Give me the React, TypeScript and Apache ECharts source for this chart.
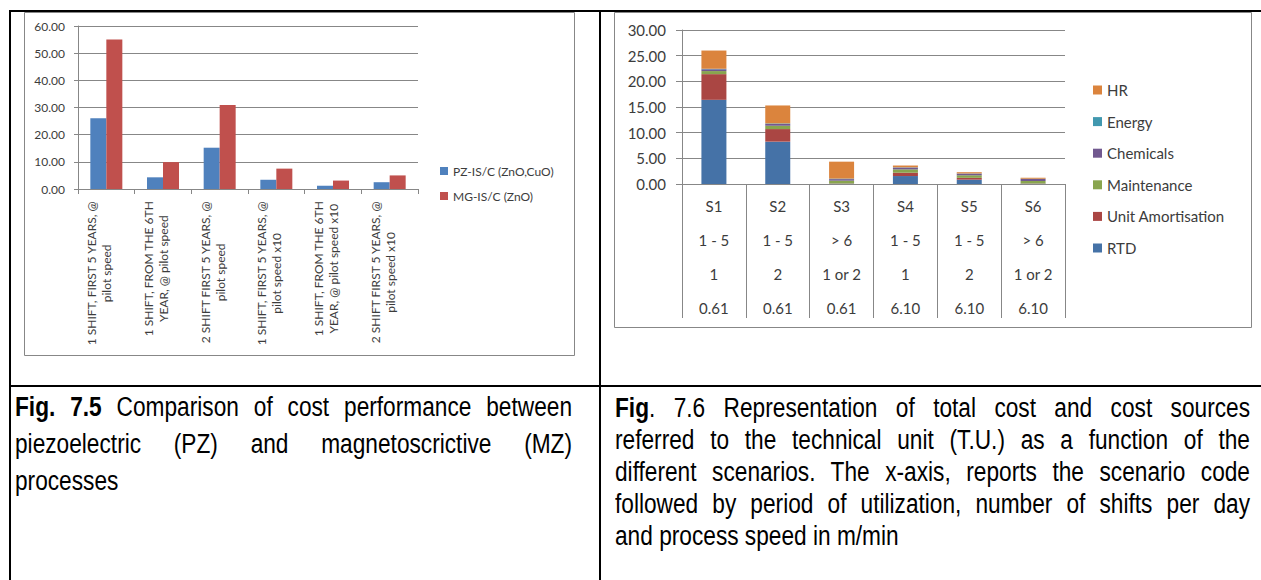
import React, { useEffect, useRef } from 'react';
import * as echarts from 'echarts';

// ---------- Fig 7.5 data ----------
const categories1 = [
  '1 SHIFT, FIRST 5 YEARS, @\npilot speed',
  '1 SHIFT, FROM THE 6TH\nYEAR, @ pilot speed',
  '2 SHIFT FIRST 5 YEARS, @\npilot speed',
  '1 SHIFT, FIRST 5 YEARS, @\npilot speed x10',
  '1 SHIFT, FROM THE 6TH\nYEAR, @ pilot speed x10',
  '2 SHIFT FIRST 5 YEARS, @\npilot speed x10',
];
const seriesNames1 = ['PZ-IS/C (ZnO,CuO)', 'MG-IS/C (ZnO)'];
const pzValues = [26.0, 4.3, 15.2, 3.4, 1.2, 2.5];
const mgValues = [55.0, 9.9, 30.9, 7.5, 3.1, 5.0];

// ---------- Fig 7.6 data ----------
const scenarioCodes = ['S1', 'S2', 'S3', 'S4', 'S5', 'S6'];
const periods = ['1 - 5', '1 - 5', '> 6', '1 - 5', '1 - 5', '> 6'];
const shifts = ['1', '2', '1 or 2', '1', '2', '1 or 2'];
const speeds = ['0.61', '0.61', '0.61', '6.10', '6.10', '6.10'];
const costNames = ['RTD', 'Unit Amortisation', 'Maintenance', 'Chemicals', 'Energy', 'HR'];
const rtd = [16.4, 8.25, 0.05, 1.55, 0.85, 0.05];
const unitAmortisation = [5.0, 2.45, 0.05, 0.65, 0.35, 0.05];
const maintenance = [0.6, 0.65, 0.55, 0.65, 0.5, 0.5];
const chemicals = [0.35, 0.35, 0.3, 0.35, 0.3, 0.35];
const energy = [0.1, 0.1, 0.1, 0.05, 0.05, 0.05];
const hr = [3.55, 3.5, 3.3, 0.35, 0.25, 0.2];
const legendOrder2 = ['HR', 'Energy', 'Chemicals', 'Maintenance', 'Unit Amortisation', 'RTD'];

const caption1Lines = [
  ['Fig. 7.5', ' Comparison of cost performance between'],
  ['', 'piezoelectric (PZ) and magnetoscrictive (MZ)'],
  ['', 'processes'],
];
const caption2Lines = [
  ['Fig', '. 7.6 Representation of total cost and cost sources'],
  ['', 'referred to the technical unit (T.U.) as a function of the'],
  ['', 'different scenarios. The x-axis, reports the scenario code'],
  ['', 'followed by period of utilization, number of shifts per day'],
  ['', 'and process speed in m/min'],
];

const FONT = 'Lato, "Open Sans", sans-serif';
const CAPFONT = '"Liberation Sans", Arial, sans-serif';
const NARROW = 0.84;
const GRID_GRAY = '#878787';
const TXT = '#3c3c3c';

const colors1 = ['#4F81BD', '#C0504D'];
const colors2 = ['#4572A7', '#AA4643', '#89A54E', '#71588F', '#4198AF', '#DB843D'];

function Caption({ lines, left, width, top, lineH }: any) {
  return (
    <div
      style={{
        position: 'absolute',
        left,
        top,
        width: width / NARROW,
        transform: `scaleX(${NARROW})`,
        transformOrigin: 'left top',
        fontFamily: CAPFONT,
        fontSize: 27,
        color: '#000',
      }}
    >
      {lines.map((l: string[], i: number) => {
        const last = i === lines.length - 1;
        return (
          <div
            key={i}
            style={{
              height: lineH,
              lineHeight: lineH + 'px',
              whiteSpace: last ? 'nowrap' : 'normal',
              textAlign: last ? 'left' : 'justify',
              textAlignLast: last ? 'left' : 'justify',
            } as any}
          >
            {l[0] ? <b>{l[0]}</b> : null}
            {l[1]}
          </div>
        );
      })}
    </div>
  );
}

export default function App() {
  const ref = useRef<HTMLDivElement>(null);
  useEffect(() => {
    if (!ref.current) return;
    const chart = echarts.init(ref.current, null, { renderer: 'svg' });
    const cats2 = scenarioCodes.map((s, i) => [s, periods[i], shifts[i], speeds[i]].join('\n'));
    const stackData = [rtd, unitAmortisation, maintenance, chemicals, energy, hr];
    chart.setOption({
      animation: false,
      backgroundColor: 'transparent',
      graphic: [
        { type: 'rect', silent: true, z: -1, shape: { x: 24.5, y: 12.5, width: 550, height: 343 }, style: { fill: '#fff', stroke: GRID_GRAY, lineWidth: 1 } },
        { type: 'rect', silent: true, z: -1, shape: { x: 614.5, y: 12.5, width: 637, height: 315 }, style: { fill: '#fff', stroke: GRID_GRAY, lineWidth: 1 } },
      ],
      legend: [
        {
          data: seriesNames1,
          orient: 'vertical',
          left: 435,
          top: 159,
          itemWidth: 8,
          itemHeight: 8,
          itemGap: 11,
          icon: 'rect',
          textStyle: { fontFamily: FONT, fontSize: 12, color: TXT, lineHeight: 14 },
        },
        {
          data: legendOrder2,
          orient: 'vertical',
          left: 1088,
          top: 77,
          itemWidth: 9,
          itemHeight: 9,
          itemGap: 15.6,
          icon: 'rect',
          textStyle: { fontFamily: FONT, fontSize: 15, color: TXT, lineHeight: 16 },
        },
      ],
      grid: [
        { left: 78, top: 26, width: 340, height: 163 },
        { left: 682, top: 30, width: 383, height: 154 },
      ],
      xAxis: [
        {
          type: 'category',
          gridIndex: 0,
          data: categories1,
          axisLine: { lineStyle: { color: GRID_GRAY } },
          axisTick: { show: true, interval: 0, length: 5, lineStyle: { color: GRID_GRAY } },
          axisLabel: {
            interval: 0,
            rotate: 90,
            margin: 12,
            fontFamily: FONT,
            fontSize: 12,
            color: TXT,
            padding: [0, 0, 14, 0],
            formatter: (v: string) => v.split('\n').map((s) => '{c|' + s + '}').join('\n'),
            rich: { c: { align: 'center', fontFamily: FONT, fontSize: 12, color: TXT, lineHeight: 15 } },
          },
        },
        {
          type: 'category',
          gridIndex: 1,
          data: cats2,
          axisLine: { lineStyle: { color: GRID_GRAY } },
          axisTick: { show: true, interval: 0, length: 134, lineStyle: { color: GRID_GRAY } },
          axisLabel: {
            interval: 0,
            margin: 5,
            fontFamily: FONT,
            fontSize: 15,
            color: TXT,
            lineHeight: 34,
          },
        },
      ],
      yAxis: [
        {
          type: 'value',
          gridIndex: 0,
          min: 0,
          max: 60,
          interval: 10,
          axisLine: { show: true, lineStyle: { color: GRID_GRAY } },
          axisTick: { show: true, length: 4, lineStyle: { color: GRID_GRAY } },
          splitLine: { lineStyle: { color: GRID_GRAY, width: 1 } },
          axisLabel: { margin: 13, fontFamily: FONT, fontSize: 12, color: TXT, formatter: (v: number) => v.toFixed(2) },
        },
        {
          type: 'value',
          gridIndex: 1,
          min: 0,
          max: 30,
          interval: 5,
          axisLine: { show: true, lineStyle: { color: GRID_GRAY } },
          axisTick: { show: true, length: 6, lineStyle: { color: GRID_GRAY } },
          splitLine: { lineStyle: { color: GRID_GRAY, width: 1 } },
          axisLabel: { margin: 16, fontFamily: FONT, fontSize: 15, color: TXT, formatter: (v: number) => v.toFixed(2) },
        },
      ],
      series: [
        { name: seriesNames1[0], type: 'bar', xAxisIndex: 0, yAxisIndex: 0, data: pzValues, barWidth: 16, barGap: '0%', itemStyle: { color: colors1[0] } },
        { name: seriesNames1[1], type: 'bar', xAxisIndex: 0, yAxisIndex: 0, data: mgValues, barWidth: 16, barGap: '0%', itemStyle: { color: colors1[1] } },
        ...costNames.map((n, i) => ({
          name: n,
          type: 'bar',
          xAxisIndex: 1,
          yAxisIndex: 1,
          stack: 'cost',
          barWidth: 25,
          data: stackData[i],
          itemStyle: { color: colors2[i] },
        })),
      ],
    });
    return () => chart.dispose();
  }, []);

  const black = '#000';
  return (
    <div style={{ position: 'fixed', left: 0, top: 0, width: 1261, height: 580, overflow: 'hidden', background: '#fff' }}>
      <div style={{ position: 'absolute', left: 9, top: 10, width: 1262, height: 2, background: black }} />
      <div style={{ position: 'absolute', left: 9, top: 10, width: 2, height: 580, background: black }} />
      <div style={{ position: 'absolute', left: 599, top: 10, width: 2, height: 580, background: black }} />
      <div ref={ref} style={{ position: 'absolute', left: 0, top: 0, width: 1261, height: 580 }} />
      <div style={{ position: 'absolute', left: 9, top: 385, width: 1262, height: 2, background: black }} />
      <Caption lines={caption1Lines} left={15} width={557} top={389} lineH={37} />
      <Caption lines={caption2Lines} left={615} width={635} top={392} lineH={32} />
    </div>
  );
}
